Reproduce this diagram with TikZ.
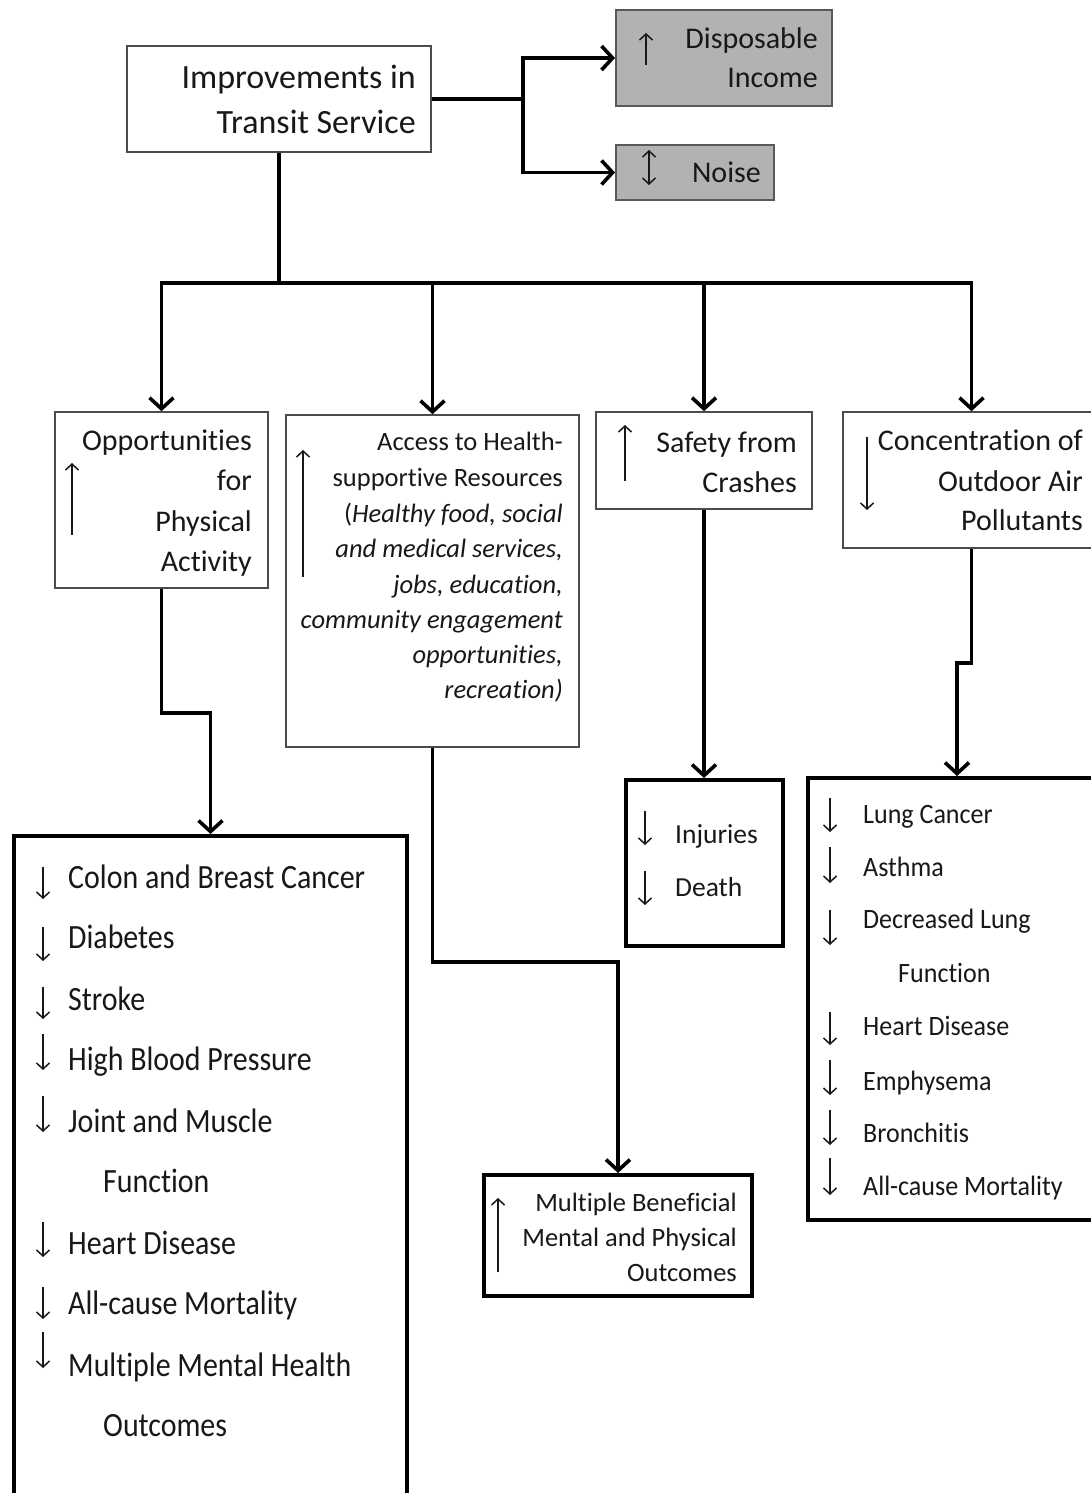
\documentclass[tikz,border=0pt]{standalone}
\usepackage{fontspec}
\setmainfont[Ligatures=NoCommon]{Carlito}
\newfontfamily\colonfont[FakeStretch=0.88,Ligatures=NoCommon]{Carlito}
\newfontfamily\lungfont[FakeStretch=0.93,Ligatures=NoCommon]{Carlito}
\usetikzlibrary{arrows.meta}
\definecolor{boxgray}{HTML}{B2B2B2}
\definecolor{txtc}{HTML}{181818}
\begin{document}
\begin{tikzpicture}[x=1pt, y=-1pt,
  thinbox/.style={draw=black!70, line width=1.6pt, fill=white, inner sep=0pt},
  graybox/.style={draw=black!65, line width=2pt, fill=boxgray, inner sep=0pt},
  thickbox/.style={draw=black, line width=4pt, fill=white, inner sep=0pt},
  link/.style={line width=3.6pt, line join=miter},
  conn/.style={link, -{Straight Barb[length=11pt,width=24pt,line width=3.6pt]}},
  tarrow/.style={line width=1.5pt, draw=txtc, -{Straight Barb[length=6pt,width=13pt,line width=1.5pt]}},
  tdouble/.style={line width=1.5pt, draw=txtc, {Straight Barb[length=6pt,width=13pt,line width=1.5pt]}-{Straight Barb[length=6pt,width=13pt,line width=1.5pt]}},
  rtxt/.style={inner sep=0pt, text=txtc, anchor=base east},
  ltxt/.style={inner sep=0pt, text=txtc, anchor=base west}]
\useasboundingbox (0,0) rectangle (1091,1493);
\clip (0,0) rectangle (1091,1493);
\fill[white] (0,0) rectangle (1091,1493);

% ---------- boxes ----------
\node[thinbox, minimum width=304pt, minimum height=106pt] (imp) at (279,99) {};
\node[graybox, minimum width=216pt, minimum height=96pt] (disp) at (724,58) {};
\node[graybox, minimum width=158pt, minimum height=55pt] (noise) at (695,172.5) {};
\node[thinbox, minimum width=213pt, minimum height=176pt] (opp) at (161.5,500) {};
\node[thinbox, minimum width=293pt, minimum height=332pt] (acc) at (432.5,581) {};
\node[thinbox, minimum width=216pt, minimum height=97pt] (saf) at (704,460.5) {};
\node[thinbox, minimum width=257pt, minimum height=136pt] (conc) at (971.5,480) {};
\node[thickbox, minimum width=393pt, minimum height=674pt] (colon) at (210.5,1173) {};
\node[thickbox, minimum width=157pt, minimum height=166pt] (inj) at (704.5,863) {};
\node[thickbox, minimum width=268pt, minimum height=121pt] (mult) at (618,1235.5) {};
\node[thickbox, minimum width=298pt, minimum height=442pt] (lung) at (957,999) {};

% ---------- connectors ----------
\coordinate (jb) at (523,99);
\draw[link] (imp.east) -- (jb);
\draw[conn] (jb) |- (disp.west);
\draw[conn] (jb) |- (noise.west);
\coordinate (jt) at (279,283);
\draw[link] (imp.south) -- (jt);
\foreach \n in {opp,acc,saf,conc} \draw[conn] (jt) -| (\n.north);
\draw[conn] (opp.south) -- (opp.south |- 0,713) -| (colon.north);
\draw[conn] (acc.south) -- (acc.south |- 0,962) -| (mult.north);
\draw[conn] (saf.south) -- (saf.south |- inj.north);
\draw[conn] (conc.south) -- (conc.south |- 0,663) -| (lung.north);

% ---------- texts ----------
\begin{scope}[every node/.append style={font=\fontsize{34}{40}\selectfont}]
\node[rtxt] (imp1) at (416,89) {Improvements in};
\node[rtxt] (imp2) at (416,133) {Transit Service};
\end{scope}
\begin{scope}[every node/.append style={font=\fontsize{30}{36}\selectfont}]
\node[rtxt] (disp1) at (818,49) {Disposable};
\node[rtxt] (disp2) at (818,88) {Income};
\node[rtxt] (noise1) at (761,182) {Noise};
\node[rtxt] (opp1) at (252,450) {Opportunities};
\node[rtxt] (opp2) at (252,490.5) {for};
\node[rtxt] (opp3) at (252,531) {Physical};
\node[rtxt] (opp4) at (252,571.5) {Activity};
\node[rtxt] (saf1) at (797,452) {Safety from};
\node[rtxt] (saf2) at (797,492) {Crashes};
\node[rtxt] (conc1) at (1083,450) {Concentration of};
\node[rtxt] (conc2) at (1083,491) {Outdoor Air};
\node[rtxt] (conc3) at (1083,530) {Pollutants};
\end{scope}
\begin{scope}[every node/.append style={font=\fontsize{26.5}{32}\selectfont}]
\node[rtxt] (acc1) at (563,450) {Access to Health-};
\node[rtxt] (acc2) at (563,486) {supportive Resources};
\node[rtxt] (acc3) at (563,522) {(\textit{Healthy food, social}};
\node[rtxt] (acc4) at (563,557) {\textit{and medical services,}};
\node[rtxt] (acc5) at (563,593) {\textit{jobs, education,}};
\node[rtxt] (acc6) at (563,628) {\textit{community engagement}};
\node[rtxt] (acc7) at (563,663) {\textit{opportunities,}};
\node[rtxt] (acc8) at (563,698) {\textit{recreation)}};
\node[rtxt] (mult1) at (737,1211) {Multiple Beneficial};
\node[rtxt] (mult2) at (737,1246) {Mental and Physical};
\node[rtxt] (mult3) at (737,1281) {Outcomes};
\end{scope}
\begin{scope}[every node/.append style={font=\fontsize{27.5}{32}\selectfont}]
\node[ltxt] (inj1) at (675,843) {Injuries};
\node[ltxt] (inj2) at (675,896) {Death};
\end{scope}
\begin{scope}[every node/.append style={font=\colonfont\fontsize{34}{40}\selectfont}]
\node[ltxt] (c1) at (68,888) {Colon and Breast Cancer};
\node[ltxt] (c2) at (68,948) {Diabetes};
\node[ltxt] (c3) at (68,1010) {Stroke};
\node[ltxt] (c4) at (68,1070) {High Blood Pressure};
\node[ltxt] (c5) at (68,1132) {Joint and Muscle};
\node[ltxt] (c6) at (103,1192) {Function};
\node[ltxt] (c7) at (68,1254) {Heart Disease};
\node[ltxt] (c8) at (68,1314) {All-cause Mortality};
\node[ltxt] (c9) at (68,1376) {Multiple Mental Health};
\node[ltxt] (c10) at (103,1436) {Outcomes};
\end{scope}
\begin{scope}[every node/.append style={font=\lungfont\fontsize{28}{34}\selectfont}]
\node[ltxt] (l1) at (863,823) {Lung Cancer};
\node[ltxt] (l2) at (863,876) {Asthma};
\node[ltxt] (l3) at (863,928) {Decreased Lung};
\node[ltxt] (l4) at (898,982) {Function};
\node[ltxt] (l5) at (863,1035) {Heart Disease};
\node[ltxt] (l6) at (863,1090) {Emphysema};
\node[ltxt] (l7) at (863,1142) {Bronchitis};
\node[ltxt] (l8) at (863,1195) {All-cause Mortality};
\end{scope}

% ---------- arrow marks ----------
\draw[tarrow] (646,65) -- (646,33);
\draw[tdouble] (649,150) -- (649,185);
\draw[tarrow] (72,535) -- (72,463);
\draw[tarrow] (303,577) -- (303,450);
\draw[tarrow] (625,481) -- (625,425);
\draw[tarrow] (867,437) -- (867,510);
\draw[tarrow] (498,1272) -- (498,1198);
\foreach \a/\b in {867/899, 927/961, 987/1019, 1034/1070, 1096/1132, 1222/1257, 1287/1319, 1332/1368}
  \draw[tarrow] (43,\a) -- (43,\b);
\foreach \a/\b in {798/832, 847/883, 910/945, 1012/1045, 1060/1095, 1110/1145, 1158/1195}
  \draw[tarrow] (830,\a) -- (830,\b);
\foreach \a/\b in {811/845, 871/905}
  \draw[tarrow] (645,\a) -- (645,\b);
\end{tikzpicture}
\end{document}
